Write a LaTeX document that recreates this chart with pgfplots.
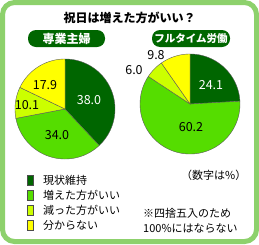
\documentclass[border=0pt]{standalone}
\usepackage{pgfplots}
\pgfplotsset{compat=1.18}
\usepackage{fontspec}
\setmainfont{Noto Sans CJK JP}
\definecolor{dg}{HTML}{006600}
\definecolor{gr}{HTML}{55DD00}
\definecolor{yg}{HTML}{CCFF00}
\definecolor{ye}{HTML}{FFFF00}
\definecolor{bd}{HTML}{8DD16C}
% slice: cx, cy, r, start%, end%, colour
\newcommand{\slice}[6]{%
  \addplot[fill=#6, draw=black!65, line width=0.4pt, domain=#4:#5, samples=60, variable=\t]
    ({#1+#3*sin(3.6*\t)},{#2-#3*cos(3.6*\t)}) -- (axis cs:#1,#2) -- cycle;
}
\begin{document}
\begin{tikzpicture}
\begin{axis}[
  width=259pt, height=244pt, scale only axis,
  xmin=0, xmax=259, ymin=0, ymax=244, y dir=reverse,
  hide axis, clip=false,
]
% frame
\draw[line width=5pt, bd, rounded corners=12pt] (axis cs:2.5,2.5) rectangle (axis cs:256.5,241.5);
% title
\node[font=\fontsize{12}{14}\selectfont\bfseries] at (axis cs:129.5,18) {祝日は増えた方がいい？};
\node[fill=dg, rounded corners=8pt, minimum width=77pt, minimum height=17pt, inner sep=0pt, text=white, font=\fontsize{12}{14}\selectfont\bfseries] at (axis cs:66.5,38.5) {専業主婦};
\node[fill=dg, rounded corners=8pt, minimum width=78pt, minimum height=17pt, inner sep=0pt, text=white, font=\fontsize{10.5}{12}\selectfont\bfseries] at (axis cs:191,38.5) {フルタイム労働};
% left pie: 38.0, 34.0, 10.1, 17.9
\slice{65}{109}{50}{0}{38.0}{dg}
\slice{65}{109}{50}{38.0}{72.0}{gr}
\slice{65}{109}{50}{72.0}{82.1}{yg}
\slice{65}{109}{50}{82.1}{100}{ye}
% right pie: 24.1, 60.2, 6.0, 9.8
\slice{190}{104}{50}{0}{24.1}{dg}
\slice{190}{104}{50}{24.1}{84.3}{gr}
\slice{190}{104}{50}{84.3}{90.3}{yg}
\slice{190}{104}{50}{90.3}{100}{ye}
% values
\begin{scope}[every node/.style={font=\fontsize{12.5}{14}\selectfont}]
\node[text=white] at (axis cs:89,100) {38.0};
\node at (axis cs:57,135) {34.0};
\node at (axis cs:27,105) {10.1};
\node at (axis cs:45,85) {17.9};
\node[text=white] at (axis cs:211,85) {24.1};
\node at (axis cs:191,127) {60.2};
\node at (axis cs:156,55) {9.8};
\node at (axis cs:134,70) {6.0};
\end{scope}
% legend
\draw[fill=dg, draw=black!70] (axis cs:27,175) rectangle (axis cs:33.5,185);
\draw[fill=gr, draw=black!70] (axis cs:27,190) rectangle (axis cs:33.5,200);
\draw[fill=yg, draw=black!70] (axis cs:27,205) rectangle (axis cs:33.5,215);
\draw[fill=ye, draw=black!70] (axis cs:27,220) rectangle (axis cs:33.5,230);
\begin{scope}[every node/.style={font=\fontsize{11}{13}\selectfont, anchor=west, inner sep=0pt}]
\node at (axis cs:43,180) {現状維持};
\node at (axis cs:43,195) {増えた方がいい};
\node at (axis cs:43,210) {減った方がいい};
\node at (axis cs:43,225) {分からない};
\node at (axis cs:143,213) {※四捨五入のため};
\node at (axis cs:143,228) {100\%にはならない};
\node at (axis cs:181,175) {（数字は\%）};
\end{scope}
\end{axis}
\end{tikzpicture}
\end{document}
